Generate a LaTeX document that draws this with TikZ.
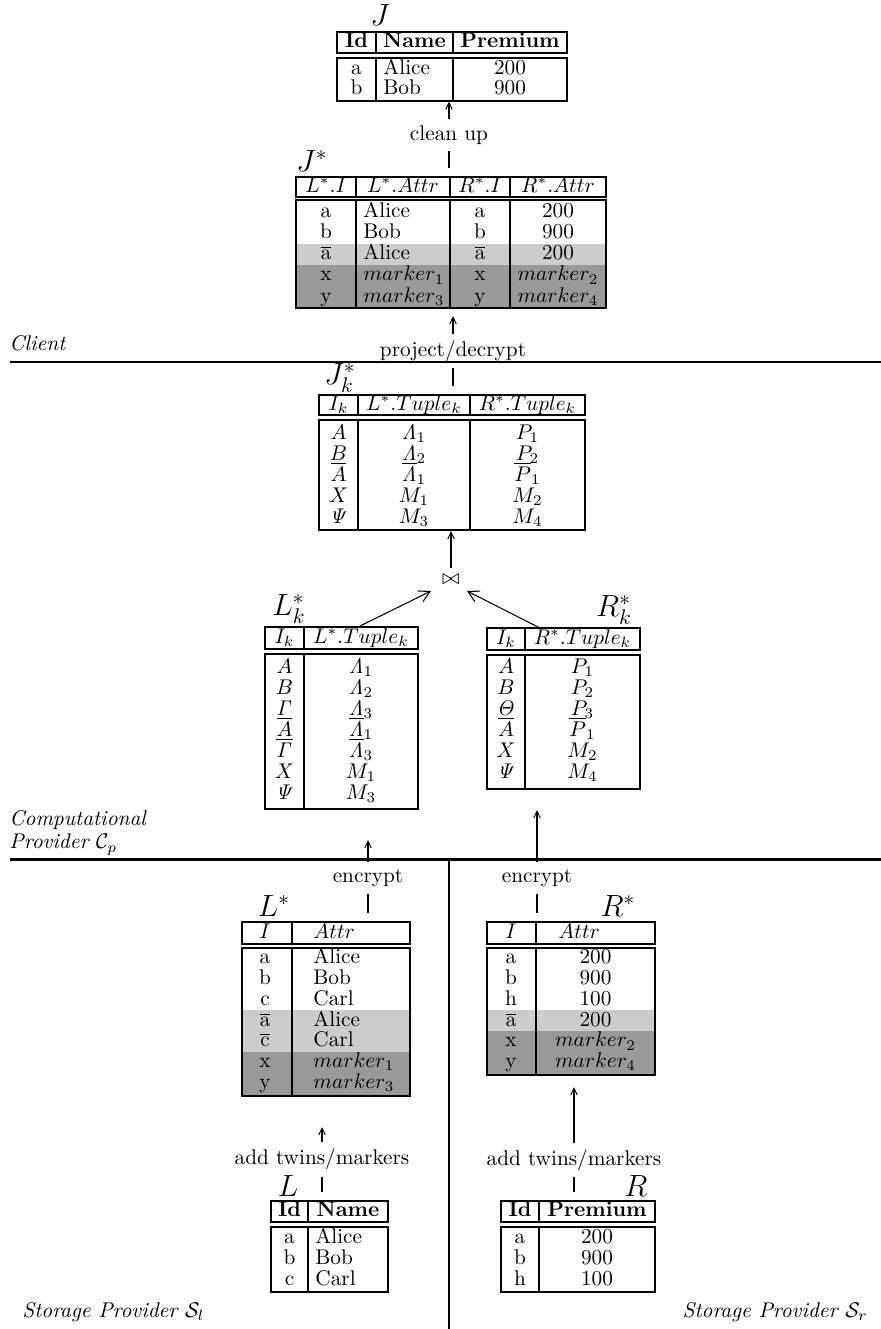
\documentclass[tikz,border=0pt]{standalone}
\usetikzlibrary{arrows.meta}
\newcommand{\pxl}{0.47pt}
\newcommand{\twin}[1]{$\overline{\mathrm{#1}}$}
\definecolor{twinfill}{gray}{0.8}
\definecolor{markfill}{gray}{0.6}
\begin{document}
\begin{tikzpicture}[x=0.47pt,y=-0.47pt,
  tbl/.style={draw, line width=1.3pt, inner sep=0pt, outer sep=0pt, anchor=north west},
  divl/.style={line width=0.8pt},
  cell/.style={inner sep=0pt, text height=6.9pt, text depth=1.9pt},
  hcell/.style={cell, font=\bfseries},
  lbl/.style={inner sep=0pt, font=\Large},
  conn/.style={line width=0.8pt, -{Straight Barb[length=3.2pt,width=3pt,line width=0.45pt]}},
  jconn/.style={line width=0.5pt, -{Straight Barb[length=5pt,width=5.5pt]}},
  tag/.style={fill=white, inner sep=3.2pt},
  sepline/.style={line width=1.4pt},
  vsep/.style={line width=0.9pt},
  side/.style={anchor=west, inner sep=0pt, font=\itshape}]
\useasboundingbox (0,0) rectangle (881,1329);

% ---------------- J ----------------
\node[lbl] (Jlab) at (380,15) {$J$};
\node[tbl, minimum width=230*\pxl, minimum height=21*\pxl] (Jh) at (337,32) {};
\node[tbl, minimum width=230*\pxl, minimum height=43*\pxl] (Jb) at (337,58) {};
\draw[divl] (376,32) -- (376,53) (453,32) -- (453,53)
            (376,58) -- (376,101) (453,58) -- (453,101);
\node[hcell] (Jh-1) at (356.5,42.5) {Id};
\node[hcell] (Jh-2) at (414.5,42.5) {Name};
\node[hcell] (Jh-3) at (510,42.5) {Premium};
\foreach \yy/\ca/\cb/\cc [count=\k] in {69/a/Alice/200, 89/b/Bob/900} {
  \node[cell] (Jr\k-1) at (356.5,\yy) {\ca};
  \node[cell, anchor=west] (Jr\k-2) at (383,\yy) {\cb};
  \node[cell] (Jr\k-3) at (510,\yy) {\cc};
}

% clean up
\coordinate (cuA) at (449,168);
\coordinate (cuB) at (449,101.5);
\draw[conn] (cuA) -- node[tag] (cuLab) {clean up} (cuB);

% ---------------- J* ----------------
\node[lbl] (JSlab) at (312,161) {$J^*$};
\fill[twinfill] (296,243.5) rectangle (606,264.5);
\fill[markfill] (296,264.5) rectangle (606,308);
\node[tbl, minimum width=310*\pxl, minimum height=20*\pxl] (JSh) at (296,177) {};
\node[tbl, minimum width=310*\pxl, minimum height=108*\pxl] (JSb) at (296,200) {};
\draw[divl] (356,177) -- (356,197) (450,177) -- (450,197) (510,177) -- (510,197)
            (356,200) -- (356,308) (450,200) -- (450,308) (510,200) -- (510,308);
\node[cell] (JSh-1) at (326,187) {$L^*.I$};
\node[cell] (JSh-2) at (403,187) {$L^*.Attr$};
\node[cell] (JSh-3) at (480,187) {$R^*.I$};
\node[cell] (JSh-4) at (558,187) {$R^*.Attr$};
\foreach \yy/\ca/\cb/\cc/\cd [count=\k] in {
    212/a/Alice/a/200,
    233/b/Bob/b/900,
    254.5/{\twin{a}}/Alice/{\twin{a}}/200,
    275.5/x/{$marker_1$}/x/{$marker_2$},
    297/y/{$marker_3$}/y/{$marker_4$}} {
  \node[cell] (JSr\k-1) at (326,\yy) {\ca};
  \node[cell, anchor=west] (JSr\k-2) at (363,\yy) {\cb};
  \node[cell] (JSr\k-3) at (480,\yy) {\cc};
  \node[cell] (JSr\k-4) at (558,\yy) {\cd};
}

% project/decrypt
\coordinate (pdA) at (453,386);
\coordinate (pdB) at (453,316);
\draw[conn] (pdA) -- node[tag] (pdLab) {project/decrypt} (pdB);

% ---------------- J_k* ----------------
\node[lbl] (JKlab) at (340,378) {$J_k^*$};
\node[tbl, minimum width=266*\pxl, minimum height=20*\pxl] (JKh) at (319,395) {};
\node[tbl, minimum width=266*\pxl, minimum height=110*\pxl] (JKb) at (319,420) {};
\draw[divl] (358,395) -- (358,415) (470,395) -- (470,415)
            (358,420) -- (358,530) (470,420) -- (470,530);
\node[cell] (JKh-1) at (338.5,405) {$I_k$};
\node[cell] (JKh-2) at (414,405) {$L^*.Tuple_k$};
\node[cell] (JKh-3) at (527.5,405) {$R^*.Tuple_k$};
\foreach \yy/\ca/\cb/\cc [count=\k] in {
    434/{$A$}/{$\mathit{\Lambda}_1$}/{$P_1$},
    455/{$B$}/{$\mathit{\Lambda}_2$}/{$P_2$},
    476/{$\overline{A}$}/{$\overline{\mathit{\Lambda}}_1$}/{$\overline{P}_1$},
    497/{$X$}/{$M_1$}/{$M_2$},
    518/{$\mathit{\Psi}$}/{$M_3$}/{$M_4$}} {
  \node[cell] (JKr\k-1) at (338.5,\yy) {\ca};
  \node[cell] (JKr\k-2) at (414,\yy) {\cb};
  \node[cell] (JKr\k-3) at (527.5,\yy) {\cc};
}

% join
\node[inner sep=3.3pt] (join) at (451,580) {$\bowtie$};
\coordinate (jnTop) at (451,531);
\coordinate (jnL) at (431,591);
\coordinate (jnR) at (467,591);
\draw[conn] (join.north) -- (jnTop);

% ---------------- L_k* ----------------
\node[lbl] (LKlab) at (289,609) {$L_k^*$};
\node[tbl, minimum width=153*\pxl, minimum height=22*\pxl] (LKh) at (265,627) {};
\node[tbl, minimum width=153*\pxl, minimum height=155*\pxl] (LKb) at (265,654) {};
\draw[divl] (304,627) -- (304,649) (304,654) -- (304,809);
\node[cell] (LKh-1) at (284.5,638) {$I_k$};
\node[cell] (LKh-2) at (361,638) {$L^*.Tuple_k$};
\foreach \yy/\ca/\cb [count=\k] in {
    668/{$A$}/{$\mathit{\Lambda}_1$},
    689/{$B$}/{$\mathit{\Lambda}_2$},
    710/{$\mathit{\Gamma}$}/{$\mathit{\Lambda}_3$},
    731/{$\overline{A}$}/{$\overline{\mathit{\Lambda}}_1$},
    752/{$\overline{\mathit{\Gamma}}$}/{$\overline{\mathit{\Lambda}}_3$},
    773/{$X$}/{$M_1$},
    794/{$\mathit{\Psi}$}/{$M_3$}} {
  \node[cell] (LKr\k-1) at (284.5,\yy) {\ca};
  \node[cell] (LKr\k-2) at (361,\yy) {\cb};
}
\coordinate (lkTop) at (358,627);
\draw[jconn] (lkTop) -- (jnL);

% ---------------- R_k* ----------------
\node[lbl] (RKlab) at (614,610) {$R_k^*$};
\node[tbl, minimum width=153*\pxl, minimum height=22*\pxl] (RKh) at (487,628) {};
\node[tbl, minimum width=153*\pxl, minimum height=134*\pxl] (RKb) at (487,655) {};
\draw[divl] (525,628) -- (525,650) (525,655) -- (525,789);
\node[cell] (RKh-1) at (506,639) {$I_k$};
\node[cell] (RKh-2) at (582.5,639) {$R^*.Tuple_k$};
\foreach \yy/\ca/\cb [count=\k] in {
    668/{$A$}/{$P_1$},
    689/{$B$}/{$P_2$},
    710/{$\mathit{\Theta}$}/{$P_3$},
    731/{$\overline{A}$}/{$\overline{P}_1$},
    752/{$X$}/{$M_2$},
    773/{$\mathit{\Psi}$}/{$M_4$}} {
  \node[cell] (RKr\k-1) at (506,\yy) {\ca};
  \node[cell] (RKr\k-2) at (582.5,\yy) {\cb};
}
\coordinate (rkTop) at (540,628);
\draw[jconn] (rkTop) -- (jnR);

% ---------------- encrypt ----------------
\coordinate (encLa) at (368,913);
\coordinate (encLb) at (368,840);
\draw[conn] (encLa) -- node[tag, pos=0.48] (encLlab) {encrypt} (encLb);
\coordinate (encRa) at (537,913);
\coordinate (encRb) at (537,810);
\draw[conn] (encRa) -- node[tag, pos=0.34] (encRlab) {encrypt} (encRb);

% ---------------- L* ----------------
\node[lbl] (LSlab) at (274,906) {$L^*$};
\fill[twinfill] (242,1010.4) rectangle (410,1051.9);
\fill[markfill] (242,1051.9) rectangle (410,1096);
\node[tbl, minimum width=168*\pxl, minimum height=22*\pxl] (LSh) at (242,922) {};
\node[tbl, minimum width=168*\pxl, minimum height=148*\pxl] (LSb) at (242,948) {};
\draw[divl] (292,922) -- (292,944) (292,948) -- (292,1096);
\node[cell] (LSh-1) at (265,933) {$I$};
\node[cell, anchor=west] (LSh-2) at (313,933) {$Attr$};
\foreach \yy/\ca/\cb [count=\k] in {
    958.5/a/Alice,
    979.25/b/Bob,
    1000/c/Carl,
    1020.75/{\twin{a}}/Alice,
    1041.5/{\twin{c}}/Carl,
    1062.25/x/{$marker_1$},
    1083/y/{$marker_3$}} {
  \node[cell] (LSr\k-1) at (265,\yy) {\ca};
  \node[cell, anchor=west] (LSr\k-2) at (313,\yy) {\cb};
}

% ---------------- R* ----------------
\node[lbl] (RSlab) at (618,906) {$R^*$};
\fill[twinfill] (487,1010.4) rectangle (655,1031.1);
\fill[markfill] (487,1031.1) rectangle (655,1075);
\node[tbl, minimum width=168*\pxl, minimum height=22*\pxl] (RSh) at (487,922) {};
\node[tbl, minimum width=168*\pxl, minimum height=127*\pxl] (RSb) at (487,948) {};
\draw[divl] (536,922) -- (536,944) (536,948) -- (536,1075);
\node[cell] (RSh-1) at (511,933) {$I$};
\node[cell, anchor=west] (RSh-2) at (558,933) {$Attr$};
\foreach \yy/\ca/\cb [count=\k] in {
    958.5/a/200,
    979.25/b/900,
    1000/h/100,
    1020.75/{\twin{a}}/200,
    1041.5/x/{$marker_2$},
    1062.25/y/{$marker_4$}} {
  \node[cell] (RSr\k-1) at (511,\yy) {\ca};
  \node[cell] (RSr\k-2) at (595.5,\yy) {\cb};
}

% ---------------- add twins/markers ----------------
\coordinate (atLa) at (322,1192);
\coordinate (atLb) at (322,1127);
\draw[conn] (atLa) -- node[tag] (atLlab) {add twins/markers} (atLb);
\coordinate (atRa) at (574,1192);
\coordinate (atRb) at (574,1087);
\draw[conn] (atRa) -- node[tag, pos=0.305] (atRlab) {add twins/markers} (atRb);

% ---------------- L ----------------
\node[lbl] (Llab) at (288,1186) {$L$};
\node[tbl, minimum width=117*\pxl, minimum height=21*\pxl] (Lh) at (271,1201) {};
\node[tbl, minimum width=117*\pxl, minimum height=65*\pxl] (Lb) at (271,1227) {};
\draw[divl] (308,1201) -- (308,1222) (308,1227) -- (308,1292);
\node[hcell] (Lh-1) at (289.5,1211.5) {Id};
\node[hcell] (Lh-2) at (348,1211.5) {Name};
\foreach \yy/\ca/\cb [count=\k] in {1238.5/a/Alice, 1259.5/b/Bob, 1280.5/c/Carl} {
  \node[cell] (Lr\k-1) at (289.5,\yy) {\ca};
  \node[cell, anchor=west] (Lr\k-2) at (315,\yy) {\cb};
}

% ---------------- R ----------------
\node[lbl] (Rlab) at (636,1186) {$R$};
\node[tbl, minimum width=154*\pxl, minimum height=21*\pxl] (Rh) at (501,1201) {};
\node[tbl, minimum width=154*\pxl, minimum height=65*\pxl] (Rb) at (501,1227) {};
\draw[divl] (539,1201) -- (539,1222) (539,1227) -- (539,1292);
\node[hcell] (Rh-1) at (520,1211.5) {Id};
\node[hcell] (Rh-2) at (597,1211.5) {Premium};
\foreach \yy/\ca/\cb [count=\k] in {1238.5/a/200, 1259.5/b/900, 1280.5/h/100} {
  \node[cell] (Rr\k-1) at (520,\yy) {\ca};
  \node[cell] (Rr\k-2) at (597,\yy) {\cb};
}

% ---------------- party regions ----------------
\node[side] (client) at (9,343) {Client};
\node[side, align=left, font=\itshape\fontsize{10}{10.8}\selectfont] (cprov) at (9,833)
  {Computational\\Provider $\mathcal{C}_p$};
\node[side] (slab) at (22,1312) {Storage Provider $\mathcal{S}_l$};
\node[side, anchor=east] (srlab) at (868,1312) {Storage Provider $\mathcal{S}_r$};

\coordinate (sepA1) at (10,362);
\coordinate (sepA2) at (881,362);
\coordinate (sepB1) at (10,859);
\coordinate (sepB2) at (881,859);
\coordinate (vsTop) at (449,859);
\coordinate (vsBot) at (449,1329);
\draw[sepline] (sepA1) -- (sepA2);
\draw[sepline] (sepB1) -- (sepB2);
\draw[vsep] (vsTop) -- (vsBot);
\end{tikzpicture}
\end{document}
